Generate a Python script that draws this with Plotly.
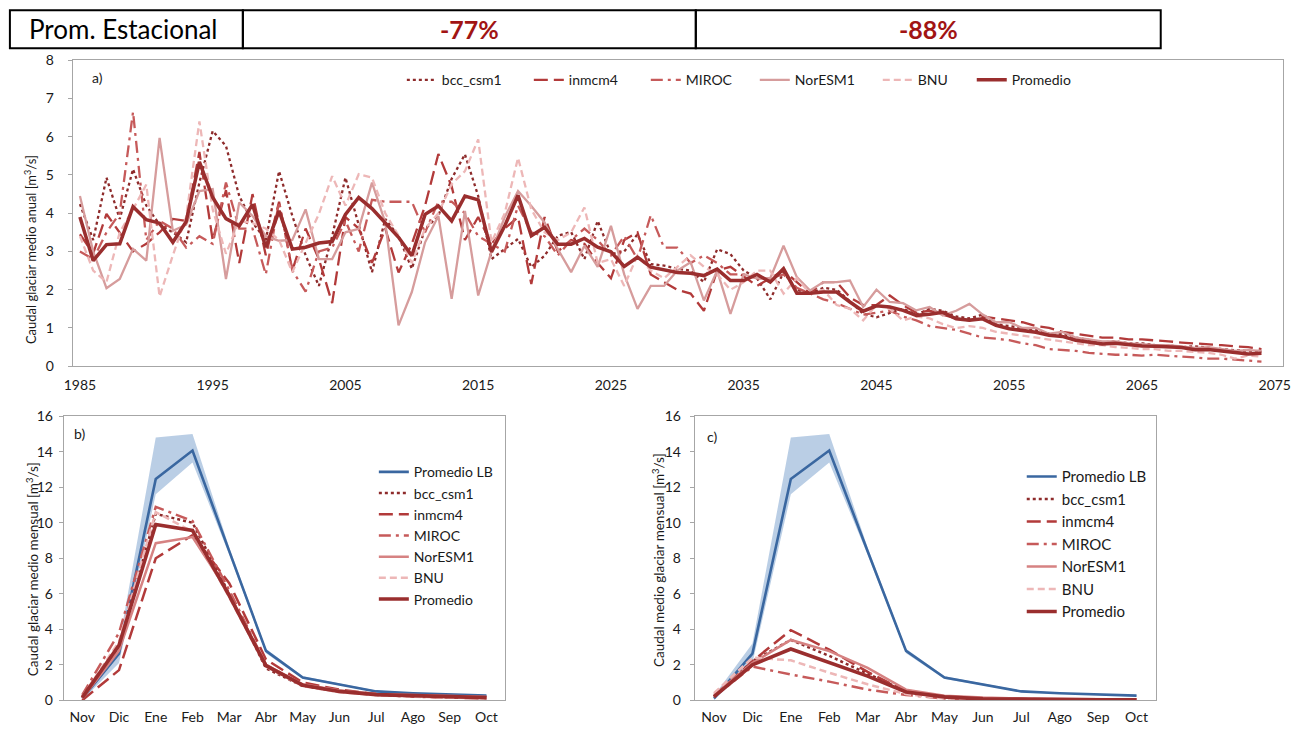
import plotly.graph_objects as go

# ---- data -------------------------------------------------------------
years = list(range(1985, 2075))

bcc_a = [4.24, 3.3, 4.93, 3.85, 5.15, 4.2, 3.7, 3.5, 3.24, 4.8,
         6.15, 5.76, 4.45, 3.76, 3.3, 5.1, 3.93, 2.9, 2.1, 3.4,
         4.93, 3.7, 2.46, 3.85, 3.4, 2.55, 3.59, 3.93, 4.9, 5.54,
         4.45, 2.8, 3.07, 3.33, 2.59, 2.89, 3.41, 3.51, 2.8, 3.8,
         2.93, 3.0, 3.45, 2.67, 2.63, 2.55, 2.5, 2.2, 3.06, 2.93,
         2.5, 2.3, 1.75, 2.45, 2.0, 1.9, 2.05, 2.0, 1.7, 1.37,
         1.28, 1.4, 1.5, 1.35, 1.5, 1.45, 1.3, 1.25, 1.35, 1.1,
         1.05, 1.0, 0.95, 0.85, 0.85, 0.75, 0.68, 0.62, 0.65, 0.6,
         0.6, 0.55, 0.55, 0.5, 0.52, 0.48, 0.45, 0.42, 0.4, 0.38]
inmcm4_a = [3.45, 2.95, 3.98, 3.5, 3.0, 3.2, 3.5, 3.85, 3.8, 5.6,
            3.3, 4.6, 2.7, 4.5, 2.9, 4.3, 2.5, 3.6, 2.8, 1.65,
            3.9, 3.6, 2.7, 3.6, 2.45, 3.2, 4.2, 5.55, 4.7, 3.3,
            3.9, 3.2, 3.6, 3.9, 2.15, 3.9, 3.0, 3.3, 3.2, 2.7,
            2.3, 3.3, 3.5, 2.4, 2.2, 2.0, 1.9, 1.45, 2.5, 2.6,
            2.35, 2.1, 2.3, 2.5, 2.2, 1.9, 2.2, 2.2, 1.8, 1.6,
            1.6, 1.85, 1.6, 1.4, 1.45, 1.35, 1.25, 1.2, 1.3, 1.25,
            1.2, 1.15, 1.05, 1.0, 0.9, 0.85, 0.8, 0.75, 0.75, 0.7,
            0.7, 0.68, 0.65, 0.62, 0.6, 0.58, 0.55, 0.52, 0.5, 0.45]
miroc_a = [3.0, 2.8, 3.5, 4.0, 6.65, 3.3, 3.8, 3.6, 3.1, 3.4,
           3.2, 4.8, 3.6, 3.6, 2.4, 4.3, 2.5, 1.95, 3.0, 3.1,
           3.8, 3.0, 4.35, 4.3, 4.3, 4.3, 3.5, 4.3, 4.3, 4.0,
           3.4, 3.2, 3.0, 4.2, 3.5, 3.4, 2.9, 3.3, 3.6, 3.3,
           2.9, 3.4, 2.8, 3.95, 3.1, 3.1, 2.7, 2.9, 2.7, 2.4,
           2.4, 2.3, 2.3, 2.4, 2.05, 1.9, 1.75, 1.65, 1.5, 1.35,
           1.4, 1.45, 1.3, 1.2, 1.05, 1.0, 0.95, 0.85, 0.75, 0.72,
           0.68, 0.6, 0.55, 0.45, 0.42, 0.4, 0.35, 0.32, 0.3, 0.3,
           0.28, 0.3, 0.27, 0.25, 0.23, 0.2, 0.2, 0.18, 0.15, 0.12]
noresm_a = [4.45, 3.0, 2.04, 2.28, 3.07, 2.76, 5.97, 3.54, 3.7, 4.58,
            4.63, 2.28, 4.28, 3.93, 3.4, 3.28, 3.3, 4.1, 2.8, 2.8,
            3.5, 3.59, 4.8, 3.76, 1.07, 1.94, 3.24, 3.93, 1.76, 4.06,
            1.85, 3.0, 3.9, 4.58, 4.19, 3.76, 3.06, 2.46, 3.15, 2.6,
            3.67, 2.4, 1.5, 2.1, 2.1, 2.5, 2.72, 1.72, 2.5, 1.37,
            2.4, 2.3, 2.3, 3.15, 2.33, 1.98, 2.2, 2.2, 2.24, 1.55,
            2.0, 1.68, 1.65, 1.46, 1.55, 1.33, 1.45, 1.63, 1.35, 1.15,
            1.15, 1.0, 1.0, 0.85, 0.9, 0.75, 0.7, 0.65, 0.65, 0.6,
            0.58, 0.55, 0.55, 0.52, 0.48, 0.5, 0.45, 0.4, 0.42, 0.4]
bnu_a = [3.4, 2.5, 2.2, 3.5, 4.1, 4.75, 1.82, 2.9, 3.9, 6.4,
         4.1, 2.94, 3.8, 3.74, 3.6, 3.3, 2.46, 3.2, 3.98, 4.97,
         4.2, 5.02, 4.93, 4.0, 3.41, 2.7, 3.6, 4.0, 4.76, 5.1,
         5.93, 3.24, 4.0, 5.45, 4.1, 3.5, 3.3, 3.5, 4.15, 2.7,
         2.8, 2.1, 2.9, 2.5, 2.3, 2.6, 2.9, 2.6, 2.4, 2.0,
         2.2, 2.5, 2.5, 1.9, 2.3, 1.9, 2.0, 1.6, 1.5, 1.2,
         1.6, 1.5, 1.2, 1.3, 1.25, 1.1, 1.0, 1.05, 1.0, 0.9,
         0.85, 0.8, 0.75, 0.7, 0.65, 0.6, 0.55, 0.55, 0.5, 0.48,
         0.45, 0.45, 0.4, 0.4, 0.38, 0.35, 0.3, 0.2, 0.28, 0.25]
prom_a = [3.9, 2.76, 3.18, 3.2, 4.17, 3.83, 3.74, 3.24, 3.78, 5.34,
          4.41, 3.86, 3.67, 4.23, 3.11, 4.06, 3.06, 3.11, 3.22, 3.26,
          3.97, 4.41, 4.12, 3.76, 3.37, 2.89, 3.97, 4.19, 3.8, 4.45,
          4.35, 2.99, 3.67, 4.47, 3.41, 3.63, 3.19, 3.19, 3.34, 3.11,
          2.99, 2.61, 2.85, 2.59, 2.53, 2.45, 2.43, 2.37, 2.54, 2.24,
          2.24, 2.4, 2.2, 2.55, 1.91, 1.91, 1.94, 1.94, 1.68, 1.44,
          1.58, 1.55, 1.46, 1.33, 1.36, 1.41, 1.24, 1.2, 1.24, 1.07,
          0.98, 0.94, 0.89, 0.81, 0.78, 0.68, 0.62, 0.58, 0.6, 0.56,
          0.53, 0.52, 0.5, 0.49, 0.43, 0.44, 0.4, 0.37, 0.32, 0.34]

meses = ["Nov", "Dic", "Ene", "Feb", "Mar", "Abr", "May", "Jun", "Jul", "Ago", "Sep", "Oct"]
lb_mean = [0.1, 2.63, 12.47, 14.07, 8.4, 2.78, 1.28, 0.9, 0.5, 0.4, 0.33, 0.26]
lb_hi = [0.25, 3.2, 14.8, 15.0, 8.6, 2.9, 1.35, 0.95, 0.55, 0.43, 0.36, 0.3]
lb_lo = [0.0, 2.1, 11.6, 13.4, 8.2, 2.65, 1.2, 0.85, 0.45, 0.37, 0.3, 0.22]

bcc_b = [0.2, 3.0, 10.5, 10.0, 6.0, 1.8, 0.8, 0.5, 0.3, 0.25, 0.2, 0.15]
inmcm4_b = [0.0, 1.7, 8.0, 9.3, 6.6, 2.3, 1.0, 0.6, 0.35, 0.25, 0.15, 0.1]
miroc_b = [0.3, 3.8, 10.9, 10.1, 6.2, 2.0, 0.85, 0.5, 0.3, 0.2, 0.15, 0.15]
noresm_b = [0.1, 2.8, 8.85, 9.19, 6.0, 2.0, 0.9, 0.55, 0.35, 0.3, 0.25, 0.2]
bnu_b = [0.2, 3.3, 10.6, 9.5, 5.8, 1.9, 0.8, 0.45, 0.3, 0.2, 0.15, 0.1]
prom_b = [0.15, 3.1, 9.9, 9.57, 5.9, 1.95, 0.85, 0.5, 0.32, 0.25, 0.2, 0.15]

bcc_c = [0.2, 2.2, 3.4, 2.5, 1.5, 0.5, 0.15, 0.05, 0.02, 0.02, 0.02, 0.02]
inmcm4_c = [0.2, 2.2, 3.95, 2.85, 1.6, 0.5, 0.15, 0.1, 0.08, 0.05, 0.05, 0.05]
miroc_c = [0.2, 1.9, 1.45, 1.05, 0.6, 0.3, 0.1, 0.03, 0.02, 0.02, 0.02, 0.02]
noresm_c = [0.3, 2.1, 3.4, 2.77, 1.82, 0.6, 0.25, 0.15, 0.1, 0.08, 0.06, 0.05]
bnu_c = [0.4, 2.4, 2.25, 1.55, 0.9, 0.35, 0.1, 0.05, 0.03, 0.02, 0.02, 0.02]
prom_c = [0.2, 2.0, 2.89, 2.1, 1.36, 0.47, 0.19, 0.08, 0.05, 0.04, 0.03, 0.03]

estacional = ["Prom. Estacional", "-77%", "-88%"]

# ---- styles -----------------------------------------------------------
FONT = "Lato, 'Open Sans', sans-serif"
W, H = 1293, 730
# how the photographed page maps figure pixels (measured on earlier renders)
X0, SX = 8.1, 0.987
Y0, SY = 8.8, 0.9766

styles = {
    "bcc_csm1": dict(color="#8E2B2B", dash="dot"),
    "inmcm4": dict(color="#B23A3A", dash="14px,6px"),
    "MIROC": dict(color="#C65A5A", dash="12px,5px,3px,5px"),
    "NorESM1": dict(color="#D69C9C", dash="solid"),
    "BNU": dict(color="#EDB7B7", dash="7px,4px"),
    "Promedio": dict(color="#9A2E2E", dash="solid"),
}
noresm_monthly = "#D68282"
blue = "#3A67A0"


def px(v):
    # screen pixel -> paper x
    return (v - X0) / SX / W


def py(v):
    # screen pixel -> paper y
    return 1 - (v - Y0) / SY / H


fig = go.Figure()

# panel a, one legend box per entry so the spacing follows the original
series_a = [("bcc_csm1", bcc_a), ("inmcm4", inmcm4_a), ("MIROC", miroc_a),
            ("NorESM1", noresm_a), ("BNU", bnu_a), ("Promedio", prom_a)]
legend_a_x = [401, 528, 645, 754, 877, 971]
for i, (name, vals) in enumerate(series_a):
    st = styles[name]
    fig.add_trace(go.Scatter(
        x=years, y=vals, name=name, mode="lines", xaxis="x", yaxis="y",
        line=dict(color=st["color"], dash=st["dash"], width=3.5 if name == "Promedio" else 2.3),
        legend=f"legend{i + 4}"))


# panels b and c
def monthly(xa, ya, leg, data):
    fig.add_trace(go.Scatter(x=meses, y=lb_hi, mode="lines", line=dict(width=0, color="#B9CDE5"),
                             xaxis=xa, yaxis=ya, showlegend=False, hoverinfo="skip"))
    fig.add_trace(go.Scatter(x=meses, y=lb_lo, mode="lines", line=dict(width=0, color="#B9CDE5"),
                             fill="tonexty", fillcolor="rgba(149,179,215,0.65)",
                             xaxis=xa, yaxis=ya, showlegend=False, hoverinfo="skip"))
    fig.add_trace(go.Scatter(x=meses, y=lb_mean, name="Promedio LB", mode="lines",
                             line=dict(color=blue, width=2.6), xaxis=xa, yaxis=ya, legend=leg))
    for name, vals in data:
        st = styles[name]
        color = noresm_monthly if name == "NorESM1" else st["color"]
        fig.add_trace(go.Scatter(
            x=meses, y=vals, name=name, mode="lines", xaxis=xa, yaxis=ya, legend=leg,
            line=dict(color=color, dash=st["dash"], width=3.6 if name == "Promedio" else 2.5)))


monthly("x2", "y2", "legend2", [("bcc_csm1", bcc_b), ("inmcm4", inmcm4_b), ("MIROC", miroc_b),
                                ("NorESM1", noresm_b), ("BNU", bnu_b), ("Promedio", prom_b)])
monthly("x3", "y3", "legend3", [("bcc_csm1", bcc_c), ("inmcm4", inmcm4_c), ("MIROC", miroc_c),
                                ("NorESM1", noresm_c), ("BNU", bnu_c), ("Promedio", prom_c)])

axis_common = dict(showline=True, mirror=True, linecolor="#A6A6A6", linewidth=1.2,
                   showgrid=False, zeroline=False, ticklabeloverflow="allow",
                   tickfont=dict(family=FONT, size=14, color="#1a1a1a"))
yticks = dict(ticks="outside", ticklen=4, tickcolor="#A6A6A6")
leg_common = dict(xanchor="left", yanchor="top", bgcolor="rgba(0,0,0,0)",
                  tracegroupgap=0, traceorder="normal")

layout = dict(
    width=W, height=H, margin=dict(l=0, r=0, t=0, b=0),
    paper_bgcolor="white", plot_bgcolor="white",
    font=dict(family=FONT, size=13, color="#1a1a1a"),
    xaxis=dict(domain=[px(72), px(1282)], range=[1984.47, 2075.6], tickvals=list(range(1985, 2076, 10)),
               anchor="y", ticks="", ticklabelstandoff=6, **axis_common),
    yaxis=dict(domain=[py(366), py(60)], range=[0, 8], dtick=1, anchor="x",
               ticklabelstandoff=11, **yticks, **axis_common),
    xaxis2=dict(domain=[px(63), px(504)], range=[-0.5, 11.5], type="category", anchor="y2",
                ticks="", ticklabelstandoff=4, **axis_common),
    yaxis2=dict(domain=[py(700), py(416)], range=[0, 16], dtick=2, anchor="x2",
                ticklabelstandoff=3, **yticks, **axis_common),
    xaxis3=dict(domain=[px(694), px(1155)], range=[-0.5, 11.5], type="category", anchor="y3",
                ticks="", ticklabelstandoff=4, **axis_common),
    yaxis3=dict(domain=[py(700), py(416)], range=[0, 16], dtick=2, anchor="x3",
                ticklabelstandoff=6, **yticks, **axis_common),
    legend2=dict(x=px(373), y=py(456), font=dict(family=FONT, size=14), **leg_common),
    legend3=dict(x=px(1021), y=py(460), font=dict(family=FONT, size=15), **leg_common),
)
for i, lx in enumerate(legend_a_x):
    layout[f"legend{i + 4}"] = dict(x=px(lx), y=py(64), font=dict(family=FONT, size=14), **leg_common)
fig.update_layout(**layout)

# axis titles and panel letters
ann = [
    dict(text="Caudal glaciar medio anual [m<sup>3</sup>/s]", x=px(29), y=py(249), textangle=-90, size=13),
    dict(text="Caudal glaciar medio mensual [m<sup>3</sup>/s]", x=px(32), y=py(569), textangle=-90, size=13.5),
    dict(text="Caudal medio glaciar mensual [m<sup>3</sup>/s]", x=px(658), y=py(560), textangle=-90, size=13.5),
    dict(text="a)", x=px(97), y=py(77), size=14),
    dict(text="b)", x=px(79), y=py(433), size=14),
    dict(text="c)", x=px(711), y=py(436), size=14),
]
for a in ann:
    size = a.pop("size")
    fig.add_annotation(xref="paper", yref="paper", showarrow=False, xanchor="center", yanchor="middle",
                       font=dict(family=FONT, size=size, color="#1a1a1a"), **a)

# top table
cells = [(9, 242), (242, 695), (695, 1160)]
for i, (x0, x1) in enumerate(cells):
    fig.add_shape(type="rect", xref="paper", yref="paper", x0=px(x0), x1=px(x1), y0=py(48), y1=py(10),
                  line=dict(color="black", width=2))
    if i == 0:
        font = dict(family=FONT, size=26, color="black")
    else:
        font = dict(family=FONT, size=25, color="#A11414", weight="bold")
    fig.add_annotation(xref="paper", yref="paper", x=px((x0 + x1) / 2 if i else 123), y=py(29),
                       text=estacional[i], showarrow=False, xanchor="center", yanchor="middle", font=font)

fig.write_html("out.html", config={"displayModeBar": False},
               post_script="document.body.style.margin='0';")
